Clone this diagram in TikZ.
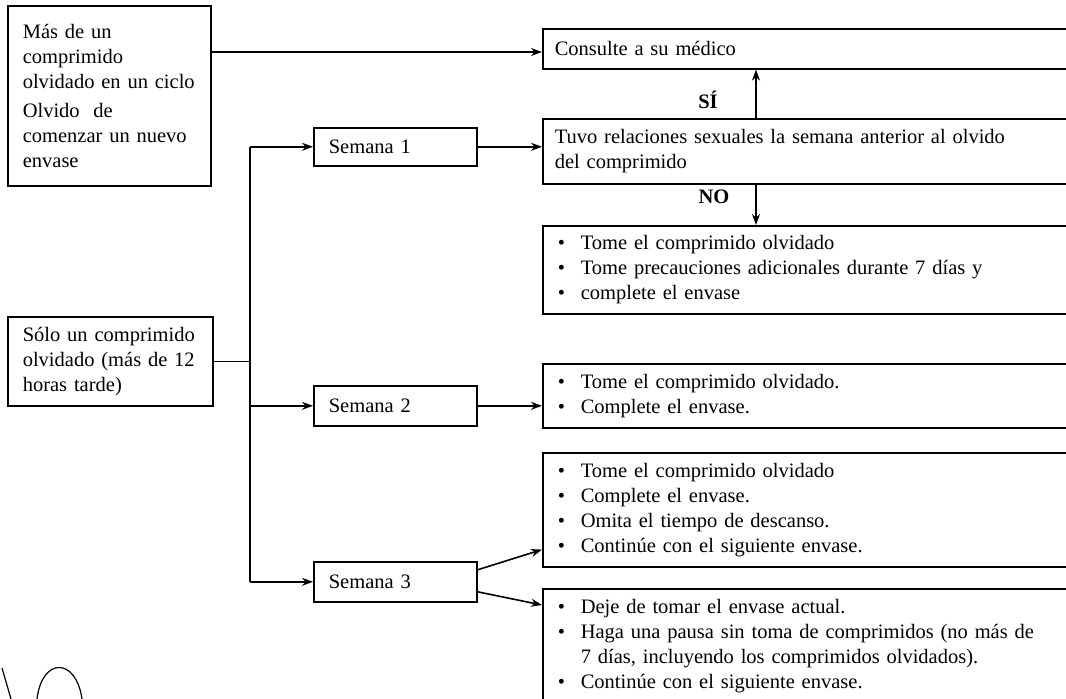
\documentclass[tikz,border=0pt]{standalone}
\usepackage{fontspec}
\setmainfont{Liberation Serif}
\usetikzlibrary{arrows.meta}
\newcommand{\itm}{\makebox[26pt][l]{\hspace{3pt}\textbullet}}
\newcommand{\cnt}{\hspace*{26pt}}
\begin{document}
\begin{tikzpicture}[
    x = 1pt,
    y = -1pt,
    >={Stealth[length=11pt,width=8pt]},
    every node/.style = {font=\fontsize{20.5}{25}\selectfont},
    box/.style = {draw, line width=1.6pt, anchor=north west, align=left,
              inner ysep=0pt, inner xsep=15pt},
    wide/.style = {box, inner xsep=12pt, text width=514pt},
    link/.style = {line width=1.6pt},
    lbl/.style = {font=\bfseries\fontsize{20.5}{25}\selectfont},
    ]

\useasboundingbox (0,0) rectangle (1066,699);
\clip (0,0) rectangle (1066,699);

\node[box, text width=173pt, minimum height=180pt] (olvido) at (7,5) {M\'as de un\\comprimido\\olvidado en un ciclo\\[4pt]Olvido~ de\\comenzar un nuevo\\envase};
\node[box, text width=175pt, minimum height=89pt] (solo) at (7,316) {S\'olo un comprimido\\olvidado (m\'as de 12\\horas tarde)};

\node[box, text width=133pt, minimum height=38pt] (sem1) at (313,127) {Semana 1};
\node[box, text width=133pt, minimum height=40pt] (sem2) at (313,385) {Semana 2};
\node[box, text width=133pt, minimum height=40pt] (sem3) at (313,561) {Semana 3};

\node[wide, minimum height=40pt] (medico) at (542,28) {Consulte a su m\'edico};
\node[wide, minimum height=65pt] (relac) at (542,118) {Tuvo relaciones sexuales la semana anterior al olvido\\del comprimido};
\node[wide, minimum height=88pt] (tome1) at (542,225) {\itm Tome el comprimido olvidado\\\itm Tome precauciones adicionales durante 7 d\'ias y\\\itm complete el envase};
\node[wide, minimum height=64pt] (tome2) at (542,363) {\itm Tome el comprimido olvidado.\\\itm Complete el envase.};
\node[wide, minimum height=114pt] (tome3) at (542,452) {\itm Tome el comprimido olvidado\\\itm Complete el envase.\\\itm Omita el tiempo de descanso.\\\itm Contin\'ue con el siguiente envase.};
\node[wide, minimum height=115pt] (deje) at (542,588) {\itm Deje de tomar el envase actual.\\\itm Haga una pausa sin toma de comprimidos (no m\'as de\\\cnt 7 d\'ias, incluyendo los comprimidos olvidados).\\\itm Contin\'ue con el siguiente envase.};

\coordinate (bus) at (250,0);
\coordinate (sino) at (756,0);

\draw [link, ->] (olvido.east |- 0,52) -- (medico.west |- 0,52);
\draw [link] (solo.east) -- (solo.east -| bus);
\draw [link] (bus |- sem1.west) -- (bus |- sem3.west);
\draw [link, ->] (bus |- sem1.west) -- (sem1.west);
\draw [link, ->] (bus |- sem2.west) -- (sem2.west);
\draw [link, ->] (bus |- sem3.west) -- (sem3.west);
\draw [link, ->] (sem1.east) -- (sem1.east -| relac.west);
\draw [link, ->] (sem2.east) -- (sem2.east -| tome2.west);
\draw [link, ->] ([yshift=12pt]sem3.east) -- ([yshift=18pt]tome3.south west);
\draw [link, ->] ([yshift=-10pt]sem3.east) -- ([yshift=-17pt]deje.north west);
\draw [link, ->] (sino |- relac.north) -- (sino |- medico.south);
\draw [link, ->] (sino |- relac.south) -- (sino |- tome1.north);

\node[lbl] (si) at (708,100) {S\'I};
\node[lbl] (no) at (714,197) {NO};

% firma
\draw [line width=1.2pt] (2,668) -- (11,699);
\draw [line width=1.2pt] (37,699) .. controls (42,657) and (76,657) .. (82,699);

\end{tikzpicture}
\end{document}
